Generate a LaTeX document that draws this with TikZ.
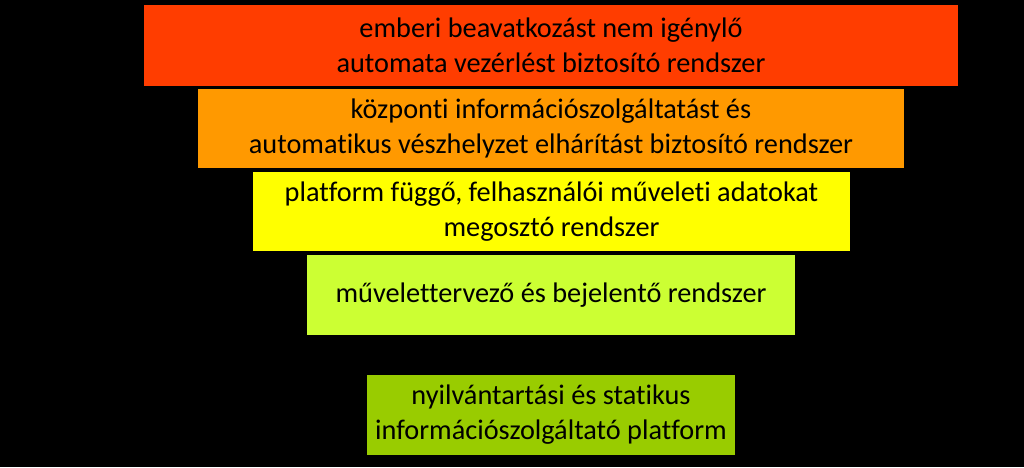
\documentclass[tikz,border=0pt]{standalone}
\usepackage{fontspec}
\setmainfont{Carlito}[Ligatures={NoCommon,NoRequired,NoContextual}]
\definecolor{cred}{HTML}{FF3D00}
\definecolor{corange}{HTML}{FF9900}
\definecolor{cyellow}{HTML}{FFFF00}
\definecolor{clime}{HTML}{CCFF33}
\definecolor{cgreen}{HTML}{99CC00}
\begin{document}
\begin{tikzpicture}[x=1pt,y=-1pt,
  layer/.style={draw=none,inner sep=0pt,align=center,font=\fontsize{28.3}{35}\selectfont,text=black}]
\fill[black] (0,0) rectangle (1024,467);
\useasboundingbox (0,0) rectangle (1024,467);
\node[layer,fill=cred,minimum width=814pt,minimum height=81pt] (b1) at (551,45.5)
  {emberi beavatkozást nem igénylő\\automata vezérlést biztosító rendszer};
\node[layer,fill=corange,minimum width=706pt,minimum height=79pt] (b2) at (551,128.5)
  {központi információszolgáltatást és\\automatikus vészhelyzet elhárítást biztosító rendszer};
\node[layer,fill=cyellow,minimum width=597pt,minimum height=79pt] (b3) at (551.5,211.5)
  {platform függő, felhasználói műveleti adatokat\\megosztó rendszer};
\node[layer,fill=clime,minimum width=488pt,minimum height=80pt] (b4) at (551,295)
  {művelettervező és bejelentő rendszer};
\node[layer,fill=cgreen,minimum width=368pt,minimum height=80pt] (b5) at (551,415)
  {nyilvántartási és statikus\\információszolgáltató platform};
\end{tikzpicture}
\end{document}
